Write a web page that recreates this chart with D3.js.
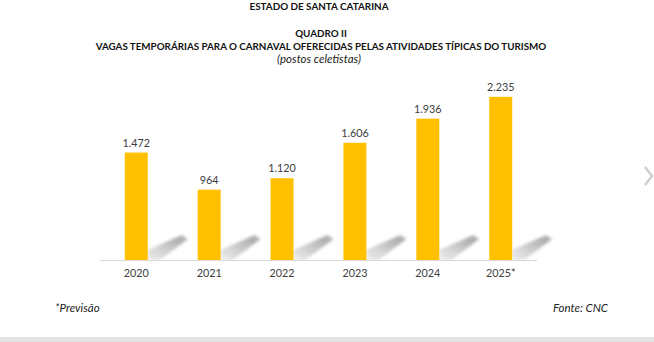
<!DOCTYPE html>
<html><head><meta charset="utf-8">
<script src="https://cdn.jsdelivr.net/npm/d3@7"></script>
<style>
html,body{margin:0;padding:0;background:#fff;}
svg{display:block;font-family:Lato,"Open Sans",sans-serif;}
</style></head>
<body>
<svg id="c" width="654" height="342"></svg>
<script>
const categories = ["2020","2021","2022","2023","2024","2025*"];
const values = [1472, 964, 1120, 1606, 1936, 2235];
const titleLines = ["ESTADO DE SANTA CATARINA"];
const headLines = ["QUADRO II","VAGAS TEMPORÁRIAS PARA O CARNAVAL OFERECIDAS PELAS ATIVIDADES TÍPICAS DO TURISMO"];
const subtitle = "(postos celetistas)";
const noteLeft = "*Previsão";
const noteRight = "Fonte: CNC";

const svg = d3.select("#c");
const W = 654, H = 342;
const base = 260, plotTop = 77.5;
const x = d3.scaleBand().domain(categories).range([100, 537]).paddingInner(0.685).paddingOuter(0.34);
const y = d3.scaleLinear().domain([0, 2500]).range([base, plotTop]);
const loc = d3.formatLocale({decimal: ",", thousands: ".", grouping: [3], currency: ["R$", ""]});
const fmt = loc.format(",d");

// bottom grey strip
svg.append("rect").attr("x",0).attr("y",337).attr("width",W).attr("height",5).attr("fill","#e4e4e4");

// chevron
svg.append("path").attr("d","M645,167 L652,176 L645,185").attr("fill","none")
  .attr("stroke","#cfcfcf").attr("stroke-width",2.5);

const defs = svg.append("defs");
defs.append("filter").attr("id","blur").attr("x","-50%").attr("y","-50%").attr("width","200%").attr("height","200%")
  .append("feGaussianBlur").attr("stdDeviation",1.8);
const grad = defs.append("linearGradient").attr("id","shg").attr("x1","0").attr("y1","1").attr("x2","1").attr("y2","0");
grad.append("stop").attr("offset","0").attr("stop-color","#c8c8c8").attr("stop-opacity",0.35);
grad.append("stop").attr("offset","0.8").attr("stop-color","#a9a9a9").attr("stop-opacity",0.95);
grad.append("stop").attr("offset","1").attr("stop-color","#b0b0b0").attr("stop-opacity",0.8);

// titles
svg.append("text").attr("x",319).attr("y",10).attr("text-anchor","middle")
  .attr("font-weight","bold").attr("font-size",9.9).attr("fill","#111").text(titleLines[0]);
headLines.forEach((t,i)=>{
  svg.append("text").attr("x",321).attr("y",37+i*12.5).attr("text-anchor","middle")
    .attr("font-weight","bold").attr("font-size",9.8).attr("fill","#111").text(t);
});
svg.append("text").attr("x",319).attr("y",63).attr("text-anchor","middle")
  .attr("font-style","italic").attr("font-size",11.5).attr("fill","#222").text(subtitle);

// shadows
const g = svg.append("g");
g.selectAll("path.sh").data(values).join("path").attr("class","sh")
  .attr("filter","url(#blur)").attr("fill","url(#shg)")
  .attr("d",(d,i)=>{
    const x1 = x(categories[i]) + x.bandwidth();
    return `M${x1},${base} L${x1},${base-10} L${x1+34},${base-25} L${x1+40},${base-21} L${x1+12},${base} Z`;
  });

// baseline
svg.append("line").attr("x1",100).attr("x2",537).attr("y1",base+0.5).attr("y2",base+0.5)
  .attr("stroke","#d9d9d9").attr("stroke-width",1);

// bars
g.selectAll("rect.bar").data(values).join("rect").attr("class","bar")
  .attr("x",(d,i)=>x(categories[i])).attr("width",x.bandwidth())
  .attr("y",d=>y(d)).attr("height",d=>base-y(d)).attr("fill","#FFC000");

// value labels
g.selectAll("text.v").data(values).join("text").attr("class","v")
  .attr("x",(d,i)=>x(categories[i])+x.bandwidth()/2).attr("y",d=>y(d)-6)
  .attr("text-anchor","middle").attr("font-size",10.8).attr("fill","#404040").text(d=>fmt(d));

// axis labels
const ax = svg.append("g").attr("transform",`translate(0,${base})`)
  .call(d3.axisBottom(x).tickSize(0).tickPadding(9));
ax.select(".domain").remove();
ax.selectAll("text").attr("font-size",10.8).attr("fill","#404040")
  .attr("font-family",'Lato,"Open Sans",sans-serif');

// footnotes
svg.append("text").attr("x",55).attr("y",312).attr("font-style","italic").attr("font-size",11.5).attr("fill","#222").text(noteLeft);
svg.append("text").attr("x",608).attr("y",312).attr("text-anchor","end").attr("font-style","italic").attr("font-size",11.5).attr("fill","#222").text(noteRight);
</script>
</body></html>
